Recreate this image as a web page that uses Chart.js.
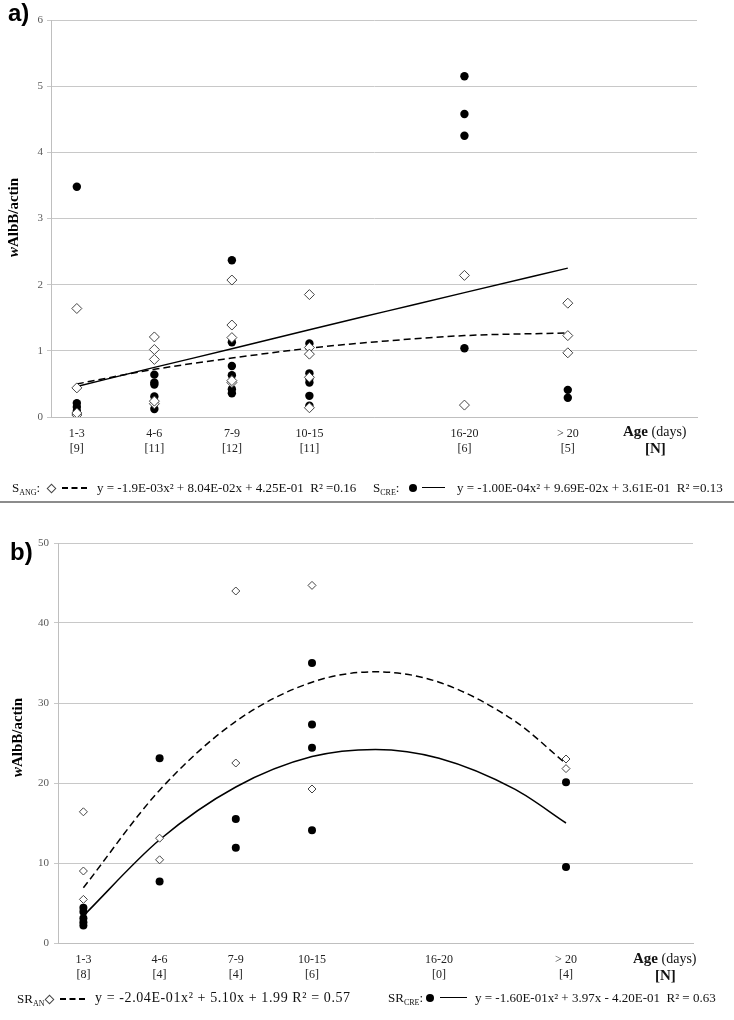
<!DOCTYPE html>
<html>
<head>
<meta charset="utf-8">
<script src="https://cdn.jsdelivr.net/npm/chart.js@4.4.0/dist/chart.umd.min.js"></script>
<style>
  body { margin: 0; background: #fff; width: 734px; height: 1020px; position: relative; overflow: hidden; }
  canvas { position: absolute; left: 0; }
  .txt { position: absolute; font-family: "Liberation Serif", serif; color: #111; white-space: nowrap; line-height: 1; }
  .leg { font-size: 13px; }
  .sub { font-size: 8px; position: relative; top: 3px; }
  .panel { position: absolute; font-family: "Liberation Sans", Arial, sans-serif; font-weight: bold; font-size: 24px; line-height: 1; }
  .ytitle { position: absolute; width: 120px; text-align: center; font-family: "Liberation Serif", serif; font-weight: bold; font-size: 15px; line-height: 1; transform: rotate(-90deg); }
  .dia { position: absolute; width: 5px; height: 5px; border: 1px solid #444; background: #fff; transform: rotate(45deg); }
  .dot { position: absolute; width: 8px; height: 8px; border-radius: 50%; background: #000; }
  .dash { position: absolute; height: 0; border-top: 2px dashed #000; }
  .solid { position: absolute; height: 0; border-top: 1.5px solid #000; }
</style>
</head>
<body>
<canvas id="graficoA" width="734" height="470" style="top:0"></canvas>
<canvas id="graficoB" width="734" height="480" style="top:520px"></canvas>

<div class="panel" style="left:8px; top:1px">a)</div>
<div class="panel" style="left:10px; top:540px">b)</div>

<div class="ytitle" style="left:-47px; top:210px"><i>w</i>AlbB/actin</div>
<div class="ytitle" style="left:-43px; top:730px"><i>w</i>AlbB/actin</div>

<!-- eixo x: idade -->
<div class="txt" style="left:623px; top:424px; font-size:14px"><b style="font-size:15px">Age</b> (days)</div>
<div class="txt" style="left:645px; top:441px; font-size:15px"><b>[N]</b></div>
<div class="txt" style="left:633px; top:951px; font-size:14px"><b style="font-size:15px">Age</b> (days)</div>
<div class="txt" style="left:655px; top:968px; font-size:15px"><b>[N]</b></div>

<!-- legenda a -->
<div class="txt leg" style="left:12px; top:481px">S<span class="sub">ANG</span>:</div>
<div class="dia" style="left:48px; top:485px"></div>
<div class="dash" style="left:62px; top:487px; width:25px"></div>
<div class="txt leg" style="left:97px; top:481px">y = -1.9E-03x² + 8.04E-02x + 4.25E-01&nbsp;&nbsp;R² =0.16</div>

<div class="txt leg" style="left:373px; top:481px">S<span class="sub">CRE</span>:</div>
<div class="dot" style="left:409px; top:484px"></div>
<div class="solid" style="left:422px; top:487px; width:23px"></div>
<div class="txt leg" style="left:457px; top:481px">y = -1.00E-04x² + 9.69E-02x + 3.61E-01&nbsp;&nbsp;R² =0.13</div>

<div style="position:absolute; left:0; top:501px; width:734px; height:2px; background:#8c8c8c"></div>

<!-- legenda b -->
<div class="txt leg" style="left:17px; top:992px">SR<span class="sub">AN</span></div>
<div class="dia" style="left:46px; top:996px"></div>
<div class="dash" style="left:60px; top:998px; width:25px"></div>
<div class="txt leg" style="left:95px; top:991px; font-size:14px; letter-spacing:0.6px">y = -2.04E-01x² + 5.10x + 1.99 R² = 0.57</div>

<div class="txt leg" style="left:388px; top:991px">SR<span class="sub">CRE</span>:</div>
<div class="dot" style="left:426px; top:994px"></div>
<div class="solid" style="left:440px; top:997px; width:27px"></div>
<div class="txt leg" style="left:475px; top:991px">y = -1.60E-01x² + 3.97x - 4.20E-01&nbsp;&nbsp;R² = 0.63</div>

<script>
// =================== DADOS ===================
const ageLabels = ['1-3', '4-6', '7-9', '10-15', '16-20', '> 20'];
const nA = ['[9]', '[11]', '[12]', '[11]', '[6]', '[5]'];
const nB = ['[8]', '[4]', '[4]', '[6]', '[0]', '[4]'];
const xPosA = [1, 4, 7, 10, 16, 20];
const xPosB = [1, 4, 7, 10, 15, 20];

// a) S_ANG (losangos) e S_CRE (círculos), um array por faixa de idade
const angA = [[1.64, 0.44, 0.03, 0.06], [1.21, 1.02, 0.87, 0.20, 0.24], [2.07, 1.39, 1.20, 0.52, 0.55],
              [1.85, 1.05, 0.95, 0.60, 0.14], [2.14, 0.18], [1.72, 1.23, 0.97]];
const creA = [[3.48, 0.21, 0.15, 0.09, 0.04], [0.64, 0.52, 0.49, 0.31, 0.12], [2.37, 1.13, 0.77, 0.63, 0.42, 0.36],
              [1.11, 0.66, 0.58, 0.52, 0.32, 0.17], [5.15, 4.58, 4.25, 1.04], [0.41, 0.29]];
const trendXA = [1, 4, 7, 10, 13, 16, 20];
const angTrendA = [0.50, 0.72, 0.89, 1.04, 1.15, 1.23, 1.27];
const creTrendA = [0.46, 0.75, 1.03, 1.32, 1.60, 1.88, 2.25];

// b) SR_AN e SR_CRE
const angB = [[16.4, 9.0, 5.45], [13.1, 10.4], [44.0, 22.5], [44.7, 19.25], [], [23.0, 21.8]];
const creB = [[4.4, 3.9, 3.1, 2.6, 2.2], [23.1, 7.7], [15.5, 11.9], [35.0, 27.3, 24.4, 14.1], [], [20.1, 9.5]];
const trendXB = [1, 4, 7, 10, 12.5, 15, 18, 20];
const angTrendB = [6.9, 19.1, 27.7, 32.6, 33.9, 32.6, 27.7, 22.4];
const creTrendB = [3.4, 12.9, 19.5, 23.3, 24.2, 23.1, 19.2, 15.0];

const yTicksA = { min: 0, max: 6, step: 1 };
const yTicksB = { min: 0, max: 50, step: 10 };

// =================== FUNÇÕES ===================
function toPoints(xs, groups) {
  const pts = [];
  groups.forEach((g, i) => g.forEach(v => pts.push({ x: xs[i], y: v })));
  return pts;
}

function toLine(xs, ys) {
  return xs.map((x, i) => ({ x: x, y: ys[i] }));
}

function makeChart(id, cfg) {
  const serif = 'Liberation Serif';
  return new Chart(document.getElementById(id), {
    type: 'scatter',
    data: {
      datasets: [
        { data: toPoints(cfg.xs, cfg.ang), pointStyle: 'rectRot', pointRadius: cfg.diaR,
          backgroundColor: '#fff', borderColor: '#444', borderWidth: 1 },
        { data: toPoints(cfg.xs, cfg.cre), pointStyle: 'circle', pointRadius: cfg.dotR,
          backgroundColor: '#000', borderColor: '#000', borderWidth: 0 },
        { type: 'line', data: toLine(cfg.trendX, cfg.angTrend), showLine: true, pointRadius: 0,
          borderColor: '#000', borderWidth: 1.5, borderDash: [7, 4], cubicInterpolationMode: 'monotone', fill: false },
        { type: 'line', data: toLine(cfg.trendX, cfg.creTrend), showLine: true, pointRadius: 0,
          borderColor: '#000', borderWidth: 1.5, cubicInterpolationMode: 'monotone', fill: false }
      ]
    },
    options: {
      responsive: false,
      devicePixelRatio: 1,
      animation: false,
      layout: { padding: cfg.padding },
      plugins: { legend: { display: false }, tooltip: { enabled: false } },
      scales: {
        x: {
          type: 'linear', min: 0, max: 25,
          grid: { display: false },
          border: { display: true, color: '#bfbfbf' },
          afterBuildTicks: s => { s.ticks = cfg.xs.map(v => ({ value: v })); },
          afterFit: s => { s.height = cfg.xHeight; },
          ticks: {
            autoSkip: false, maxRotation: 0, padding: 1, color: '#222',
            font: { family: serif, size: 12, lineHeight: 1.25 },
            callback: (v, i) => [ageLabels[i], cfg.ns[i]]
          }
        },
        y: {
          min: cfg.y.min, max: cfg.y.max,
          grid: { color: '#c8c8c8', tickLength: 4 },
          border: { color: '#bfbfbf' },
          afterFit: s => { s.width = cfg.yWidth; },
          ticks: { stepSize: cfg.y.step, padding: cfg.yPad, color: '#595959', font: { family: serif, size: 11 } }
        }
      }
    }
  });
}

makeChart('graficoA', {
  xs: xPosA, ns: nA, ang: angA, cre: creA,
  trendX: trendXA, angTrend: angTrendA, creTrend: creTrendA,
  y: yTicksA, diaR: 5, dotR: 4.2, yWidth: 51, yPad: 4, xHeight: 53,
  padding: { top: 20, right: 37, left: 0, bottom: 0 }
});

makeChart('graficoB', {
  xs: xPosB, ns: nB, ang: angB, cre: creB,
  trendX: trendXB, angTrend: angTrendB, creTrend: creTrendB,
  y: yTicksB, diaR: 4, dotR: 4, yWidth: 58, yPad: 5, xHeight: 57,
  padding: { top: 23, right: 41, left: 0, bottom: 0 }
});
</script>
</body>
</html>
